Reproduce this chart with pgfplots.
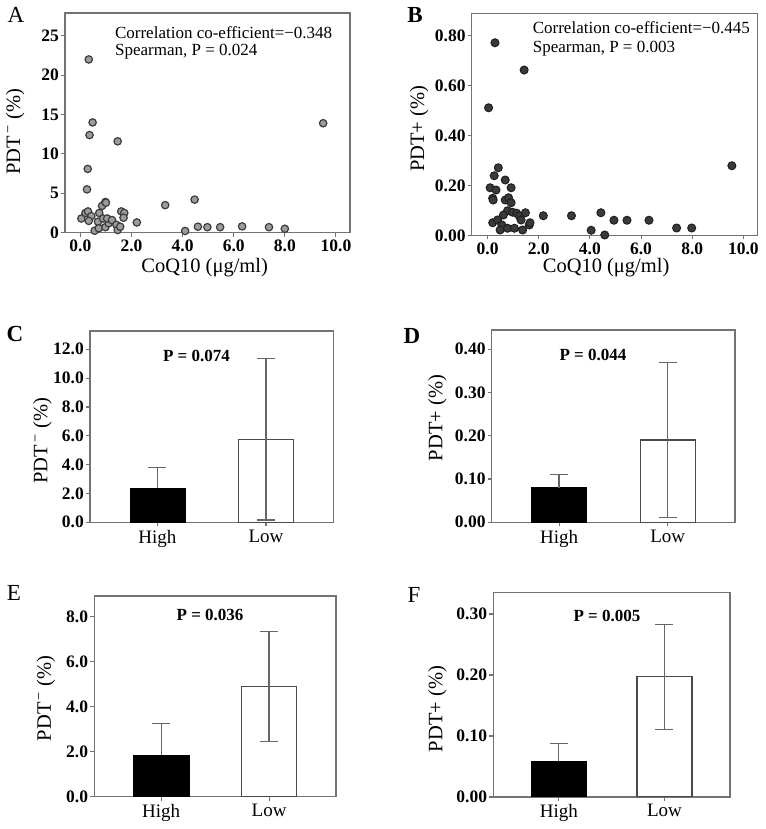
\documentclass[border=0pt]{standalone}
\usepackage{fontspec}
\setmainfont{Liberation Serif}
\usepackage{pgfplots}
\pgfplotsset{compat=1.18}

\definecolor{axgray}{HTML}{737373}
\definecolor{ptA}{HTML}{9C9C9C}
\definecolor{ptAe}{HTML}{3C3C3C}
\definecolor{ptB}{HTML}{3A3A3A}
\definecolor{ptBe}{HTML}{1E1E1E}
\definecolor{errgray}{HTML}{666666}
\definecolor{baredge}{HTML}{4A4A4A}

\pgfplotsset{
  panel/.style={
    scale only axis,
    anchor=south west,
    axis line style={axgray, line width=1.3pt},
    tick pos=left,
    tick align=outside,
    major tick length=4pt,
    tick style={axgray, line width=1.1pt},
    tick label style={font=\fontsize{17.5}{17.5}\selectfont\bfseries, text=black},
    yticklabel style={inner sep=2pt},
    /pgf/number format/assume math mode=true,
    label style={font=\fontsize{20.5}{20.5}\selectfont},
  },
  barpanel/.style={
    panel,
    xmin=-0.62, xmax=1.62, ymin=0,
    xtick={0,1}, xticklabels={High,Low},
    xticklabel style={font=\fontsize{19}{19}\selectfont},
    ybar, bar width=55pt,
  },
  highbar/.style={fill=black, draw=black, bar shift=0pt,
    error bars/.cd, y dir=plus, y explicit,
    error bar style={errgray, line width=1.3pt},
    error mark options={rotate=90, mark size=9pt, errgray, line width=1.3pt}},
  lowbar/.style={fill=white, draw=baredge, line width=1.2pt, bar shift=0pt,
    error bars/.cd, y dir=both, y explicit,
    error bar style={errgray, line width=1.3pt},
    error mark options={rotate=90, mark size=9pt, errgray, line width=1.3pt}},
}

\begin{document}
\begin{tikzpicture}
\useasboundingbox (0pt,0pt) rectangle (765pt,829pt);

% ---------------- A ----------------
\begin{axis}[panel, at={(65pt,596.3pt)}, width=285pt, height=219.7pt,
  xmin=-0.6, xmax=10.55, ymin=0, ymax=27.9,
  xtick={0,2,...,10}, ytick={0,5,...,25},
  xticklabel style={/pgf/number format/.cd, fixed, fixed zerofill, precision=1},
  xlabel={CoQ10 (μg/ml)}, ylabel={PDT\textsuperscript{\,−} (\%)},
  xlabel style={at={(axis description cs:0.49,-0.16)}, anchor=center},
  ylabel style={at={(axis description cs:-0.175,0.46)}, anchor=center},
]
\addplot[only marks, mark=*, mark size=3.7pt, mark options={fill=ptA, draw=ptAe, line width=1.2pt}] coordinates {
(0.33,22.0) (0.48,14.0) (0.36,12.4) (1.46,11.6) (0.29,8.1) (0.26,5.5) (9.5,13.9)
(0.04,1.8) (0.2,2.5) (0.3,2.7) (0.43,2.1) (0.33,1.5) (0.56,0.25) (0.74,2.5)
(0.85,3.4) (0.98,3.9) (1.0,3.8) (0.69,1.4) (0.89,1.8) (0.72,0.56) (0.98,0.7)
(1.11,1.2) (1.05,1.8) (1.24,1.6) (1.41,1.0) (1.46,0.34) (1.56,0.76) (1.6,2.7)
(1.72,2.5) (1.69,1.9) (2.21,1.3) (3.32,3.5) (4.1,0.22) (4.47,4.2) (4.6,0.76)
(4.97,0.7) (5.47,0.7) (6.33,0.8) (7.38,0.7) (8.0,0.5)
};
\node[anchor=west, font=\fontsize{17}{17}\selectfont, inner sep=0pt] at (axis description cs:0.175,0.91) {Correlation co-efficient=−0.348};
\node[anchor=west, font=\fontsize{17}{17}\selectfont, inner sep=0pt] at (axis description cs:0.175,0.824) {Spearman, P = 0.024};
\end{axis}

% ---------------- B ----------------
\begin{axis}[panel, at={(471.7pt,593.5pt)}, width=286pt, height=222.2pt,
  xmin=-0.62, xmax=10.56, ymin=0, ymax=0.889,
  xtick={0,2,...,10}, ytick={0,0.2,...,0.8},
  xticklabel style={/pgf/number format/.cd, fixed, fixed zerofill, precision=1},
  yticklabel style={/pgf/number format/.cd, fixed, fixed zerofill, precision=2},
  xlabel={CoQ10 (μg/ml)}, ylabel={PDT+ (\%)},
  xlabel style={at={(axis description cs:0.47,-0.146)}, anchor=center},
  ylabel style={at={(axis description cs:-0.184,0.48)}, anchor=center},
]
\addplot[only marks, mark=*, mark size=4pt, mark options={fill=ptB, draw=ptBe, line width=1pt}] coordinates {
(0.29,0.771) (1.43,0.662) (0.04,0.511) (9.55,0.279) (0.42,0.271) (0.26,0.239)
(0.69,0.222) (0.1,0.191) (0.33,0.182) (0.92,0.191) (0.2,0.149) (0.22,0.142)
(0.69,0.142) (0.82,0.151) (0.92,0.131) (0.78,0.099) (0.62,0.082) (0.98,0.093)
(1.14,0.089) (1.24,0.078) (1.48,0.091) (1.31,0.062) (0.2,0.051) (0.39,0.062)
(0.56,0.042) (0.49,0.022) (0.78,0.029) (1.05,0.029) (1.37,0.022) (1.63,0.042)
(1.66,0.051) (2.18,0.079) (3.28,0.079) (4.05,0.021) (4.43,0.091) (4.58,0.002)
(4.94,0.061) (5.45,0.061) (6.31,0.061) (7.39,0.030) (7.98,0.030)
};
\node[anchor=west, font=\fontsize{17}{17}\selectfont, inner sep=0pt] at (axis description cs:0.213,0.935) {Correlation co-efficient=−0.445};
\node[anchor=west, font=\fontsize{17}{17}\selectfont, inner sep=0pt] at (axis description cs:0.213,0.842) {Spearman, P = 0.003};
\end{axis}

% ---------------- C ----------------
\begin{axis}[barpanel, at={(90pt,306.7pt)}, width=243.3pt, height=191.3pt,
  ymax=13.27, ytick={0,2,...,12},
  yticklabel style={/pgf/number format/.cd, fixed, fixed zerofill, precision=1},
  ylabel={PDT\textsuperscript{\,−} (\%)},
  ylabel style={at={(axis description cs:-0.195,0.426)}, anchor=center},
]
\addplot[highbar] coordinates {(0,2.36) +- (0,1.43)};
\addplot[lowbar] coordinates {(1,5.76) +- (0,5.60)};
\node[font=\fontsize{17}{17}\selectfont\bfseries] at (axis description cs:0.4375,0.869) {P = 0.074};
\end{axis}

% ---------------- D ----------------
\begin{axis}[barpanel, at={(491.7pt,306.7pt)}, width=243.3pt, height=192.3pt,
  ymax=0.444, ytick={0,0.1,...,0.4},
  yticklabel style={/pgf/number format/.cd, fixed, fixed zerofill, precision=2},
  ylabel={PDT+ (\%)},
  ylabel style={at={(axis description cs:-0.223,0.542)}, anchor=center},
]
\addplot[highbar] coordinates {(0,0.080) +- (0,0.031)};
\addplot[lowbar] coordinates {(1,0.190) +- (0,0.179)};
\node[font=\fontsize{17}{17}\selectfont\bfseries] at (axis description cs:0.416,0.870) {P = 0.044};
\end{axis}

% ---------------- E ----------------
\begin{axis}[barpanel, at={(94.3pt,32.3pt)}, width=241.7pt, height=200.7pt,
  ymax=8.92, ytick={0,2,...,8},
  yticklabel style={/pgf/number format/.cd, fixed, fixed zerofill, precision=1},
  ylabel={PDT\textsuperscript{\,−} (\%)},
  ylabel style={at={(axis description cs:-0.2,0.49)}, anchor=center},
]
\addplot[highbar] coordinates {(0,1.85) +- (0,1.41)};
\addplot[lowbar] coordinates {(1,4.89) +- (0,2.45)};
\node[font=\fontsize{17}{17}\selectfont\bfseries] at (axis description cs:0.479,0.905) {P = 0.036};
\end{axis}

% ---------------- F ----------------
\begin{axis}[barpanel, at={(493.3pt,32pt)}, width=236.7pt, height=204.7pt,
  ymax=0.3356, ytick={0,0.1,...,0.3},
  yticklabel style={/pgf/number format/.cd, fixed, fixed zerofill, precision=2},
  ylabel={PDT+ (\%)},
  ylabel style={at={(axis description cs:-0.236,0.43)}, anchor=center},
]
\addplot[highbar] coordinates {(0,0.059) +- (0,0.0284)};
\addplot[lowbar] coordinates {(1,0.197) +- (0,0.0858)};
\node[font=\fontsize{17}{17}\selectfont\bfseries] at (axis description cs:0.480,0.886) {P = 0.005};
\end{axis}

% panel letters
\node[font=\fontsize{23}{23}\selectfont] at (16pt,814pt) {A};
\node[font=\fontsize{23}{23}\selectfont\bfseries] at (415pt,814pt) {B};
\node[font=\fontsize{23}{23}\selectfont\bfseries] at (15pt,495pt) {C};
\node[font=\fontsize{23}{23}\selectfont\bfseries] at (412pt,493pt) {D};
\node[font=\fontsize{23}{23}\selectfont] at (14pt,236pt) {E};
\node[font=\fontsize{23}{23}\selectfont] at (414pt,234pt) {F};
\end{tikzpicture}
\end{document}
